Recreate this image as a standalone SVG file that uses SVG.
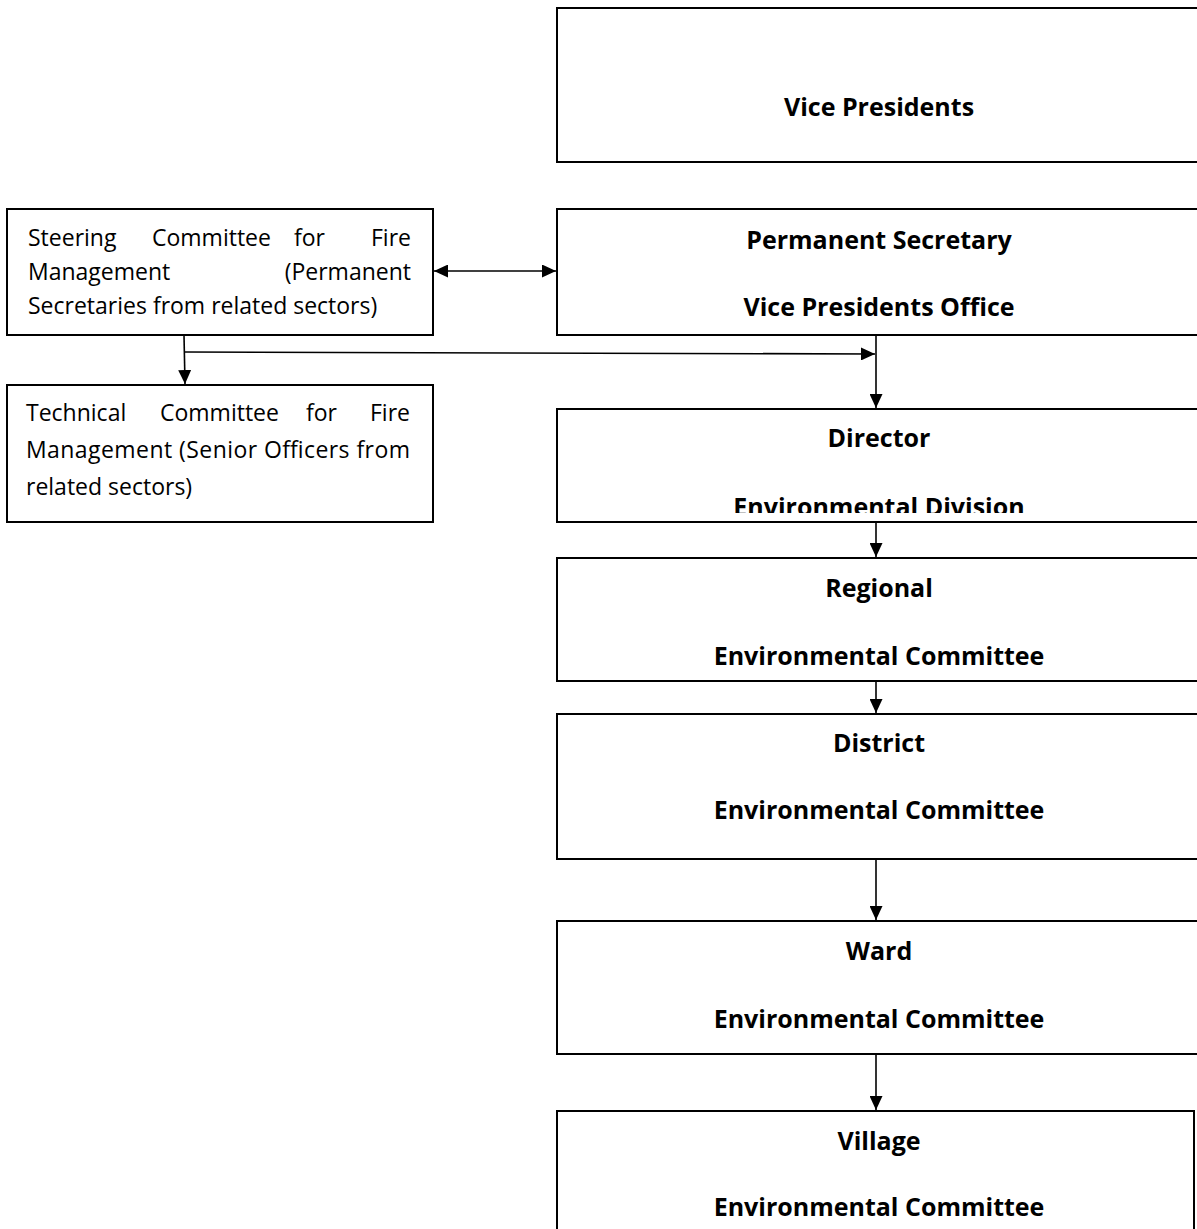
<svg xmlns="http://www.w3.org/2000/svg" width="1197" height="1229" viewBox="0 0 1197 1229">
<style>
.box{fill:#fff;stroke:#000;stroke-width:2}
.bt{font-family:"Open Sans","Liberation Sans",sans-serif;font-weight:bold;font-size:25px;fill:#000;text-anchor:middle}
.lt{font-family:"Open Sans","Liberation Sans",sans-serif;font-size:23px;fill:#000}
.c{fill:none;stroke:#000;stroke-width:1.6}
</style>
<defs>
<marker id="ah" viewBox="0 0 14 13" refX="14" refY="6.5" markerWidth="14" markerHeight="13" markerUnits="userSpaceOnUse" orient="auto-start-reverse">
<path d="M0,0 L14,6.5 L0,13 z" fill="#000"/>
</marker>
<clipPath id="dirclip"><rect x="540" y="400" width="700" height="113"/></clipPath>
</defs>
<rect width="1197" height="1229" fill="#fff"/>

<g id="connectors">
<line class="c" x1="434" y1="271" x2="556" y2="271" marker-start="url(#ah)" marker-end="url(#ah)"/>
<line class="c" x1="184" y1="335" x2="185" y2="384" marker-end="url(#ah)"/>
<line class="c" x1="185" y1="352" x2="875" y2="354" marker-end="url(#ah)"/>
<line class="c" x1="876" y1="335" x2="876" y2="408" marker-end="url(#ah)"/>
<line class="c" x1="876" y1="522" x2="876" y2="557" marker-end="url(#ah)"/>
<line class="c" x1="876" y1="681" x2="876" y2="713" marker-end="url(#ah)"/>
<line class="c" x1="876" y1="859" x2="876" y2="920" marker-end="url(#ah)"/>
<line class="c" x1="876" y1="1054" x2="876" y2="1110" marker-end="url(#ah)"/>
</g>

<g id="vice-presidents">
<rect class="box" x="557" y="8" width="700" height="154"/>
<text class="bt" x="879" y="116">Vice Presidents</text>
</g>

<g id="steering-committee">
<rect class="box" x="7" y="209" width="426" height="126"/>
<text class="lt" x="28" y="246">Steering</text>
<text class="lt" x="152" y="246">Committee</text>
<text class="lt" x="294" y="246">for</text>
<text class="lt" x="411" y="246" text-anchor="end">Fire</text>
<text class="lt" x="28" y="280">Management</text>
<text class="lt" x="411" y="280" text-anchor="end">(Permanent</text>
<text class="lt" x="28" y="314">Secretaries from related sectors)</text>
</g>

<g id="permanent-secretary">
<rect class="box" x="557" y="209" width="700" height="126"/>
<text class="bt" x="879" y="249">Permanent Secretary</text>
<text class="bt" x="879" y="316">Vice Presidents Office</text>
</g>

<g id="technical-committee">
<rect class="box" x="7" y="385" width="426" height="137"/>
<text class="lt" x="26" y="421">Technical</text>
<text class="lt" x="160" y="421">Committee</text>
<text class="lt" x="306" y="421">for</text>
<text class="lt" x="410" y="421" text-anchor="end">Fire</text>
<text class="lt" x="26" y="458" textLength="384" lengthAdjust="spacing">Management (Senior Officers from</text>
<text class="lt" x="26" y="495">related sectors)</text>
</g>

<g id="director">
<rect class="box" x="557" y="409" width="700" height="113"/>
<text class="bt" x="879" y="447">Director</text>
<text class="bt" x="879" y="516" clip-path="url(#dirclip)">Environmental Division</text>
</g>

<g id="regional">
<rect class="box" x="557" y="558" width="700" height="123"/>
<text class="bt" x="879" y="597">Regional</text>
<text class="bt" x="879" y="665">Environmental Committee</text>
</g>

<g id="district">
<rect class="box" x="557" y="714" width="700" height="145"/>
<text class="bt" x="879" y="752">District</text>
<text class="bt" x="879" y="819">Environmental Committee</text>
</g>

<g id="ward">
<rect class="box" x="557" y="921" width="700" height="133"/>
<text class="bt" x="879" y="960">Ward</text>
<text class="bt" x="879" y="1028">Environmental Committee</text>
</g>

<g id="village">
<rect class="box" x="557" y="1111" width="637" height="200"/>
<text class="bt" x="879" y="1150">Village</text>
<text class="bt" x="879" y="1216">Environmental Committee</text>
</g>
</svg>
